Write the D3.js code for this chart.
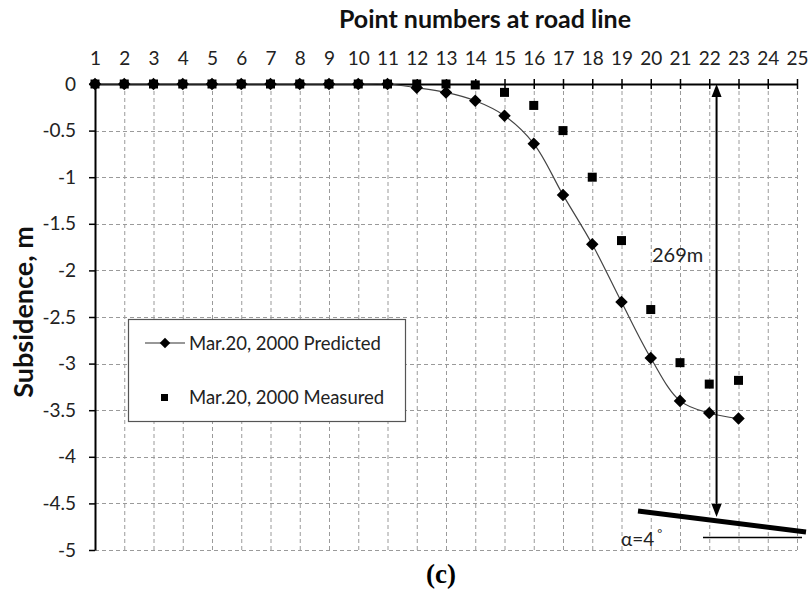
<!DOCTYPE html>
<html>
<head>
<meta charset="utf-8">
<script src="https://cdn.jsdelivr.net/npm/d3@7"></script>
<style>
  html, body { margin: 0; padding: 0; background: #fff; }
  svg { display: block; }
</style>
</head>
<body>
<svg id="chart" width="809" height="592"></svg>
<script>
// ---- data ----
const pointNumbers = [1,2,3,4,5,6,7,8,9,10,11,12,13,14,15,16,17,18,19,20,21,22,23];
const predicted = [0,0,0,0,0,0,0,0,0,0,0,-0.04,-0.09,-0.18,-0.34,-0.64,-1.19,-1.72,-2.34,-2.94,-3.40,-3.53,-3.59];
const measuredPoints = [1,2,3,4,5,6,7,8,9,10,11,12,13,14,15,16,17,18,19,20,21,22,23];
const measured = [0,0,0,0,0,0,0,0,0,0,0,0,0,-0.01,-0.09,-0.23,-0.50,-1.00,-1.68,-2.42,-2.99,-3.22,-3.18];
const xTicks = d3.range(1, 26);
const yTicks = [0,-0.5,-1,-1.5,-2,-2.5,-3,-3.5,-4,-4.5,-5];
const seriesNames = ["Mar.20, 2000 Predicted", "Mar.20, 2000 Measured"];
const arrowX = 22.25;        // position of the 269m arrow (point-number units)
const arrowLabel = "269m";
const angleLabel = "α=4";

const SANS = "Lato, 'Open Sans', sans-serif";

// ---- layout ----
const svg = d3.select("#chart");
const x = d3.scaleLinear().domain([1, 25]).range([95, 797]);
const y = d3.scaleLinear().domain([0, -5]).range([84, 550]);

// grid
const grid = svg.append("g").attr("stroke", "#9a9a9a").attr("stroke-width", 1).attr("stroke-dasharray", "4,3");
grid.selectAll("line.v").data(xTicks.filter(d => d > 1)).join("line")
  .attr("x1", d => x(d) + 0.5).attr("x2", d => x(d) + 0.5)
  .attr("y1", y(0)).attr("y2", y(-5));
grid.selectAll("line.h").data(yTicks.filter(d => d < 0)).join("line")
  .attr("y1", d => Math.round(y(d)) + 0.5).attr("y2", d => Math.round(y(d)) + 0.5)
  .attr("x1", x(1)).attr("x2", x(25));

// top axis
const xAxis = d3.axisTop(x).tickValues(xTicks).tickFormat(d3.format("d")).tickSizeInner(5).tickSizeOuter(0).tickPadding(14);
const gx = svg.append("g").attr("transform", `translate(0,${y(0)})`).call(xAxis);
gx.select(".domain").attr("stroke", "#000").attr("stroke-width", 2);
gx.selectAll(".tick line").attr("stroke", "#000").attr("stroke-width", 1.5).attr("y2", 5).attr("y1", -5);
gx.selectAll(".tick text").style("font-size", "19px").style("font-family", SANS).attr("fill", "#222");

// left axis
const yAxis = d3.axisLeft(y).tickValues(yTicks).tickSizeInner(6).tickSizeOuter(0).tickPadding(13);
const gy = svg.append("g").attr("transform", `translate(${x(1)},0)`).call(yAxis);
gy.select(".domain").attr("stroke", "#000").attr("stroke-width", 2);
gy.selectAll(".tick line").attr("stroke", "#000").attr("stroke-width", 1.5);
gy.selectAll(".tick text").style("font-size", "19px").style("font-family", SANS).attr("fill", "#222")
  .text(d => String(d));

// titles
svg.append("text").attr("x", 485).attr("y", 28).attr("text-anchor", "middle")
  .style("font-size", "25px").style("font-weight", "bold").style("font-family", SANS).attr("fill", "#111")
  .text("Point numbers at road line");
svg.append("text").attr("transform", "translate(33,312) rotate(-90)").attr("text-anchor", "middle")
  .style("font-size", "27px").style("font-weight", "bold").style("font-family", SANS).attr("fill", "#111")
  .text("Subsidence, m");

// predicted line
const predData = pointNumbers.map((p, i) => [p, predicted[i]]);
svg.append("path").datum(predData)
  .attr("fill", "none").attr("stroke", "#444").attr("stroke-width", 1.2)
  .attr("d", d3.line().x(d => x(d[0])).y(d => y(d[1])).curve(d3.curveCatmullRom.alpha(0.5)));

// measured squares
svg.append("g").selectAll("rect").data(measuredPoints.map((p, i) => [p, measured[i]])).join("rect")
  .attr("x", d => x(d[0]) - 4.5).attr("y", d => y(d[1]) - 4.5)
  .attr("width", 9).attr("height", 9).attr("fill", "#000");

// predicted diamonds
const diamond = d3.symbol().type(d3.symbolDiamond2).size(100);
svg.append("g").selectAll("path").data(predData).join("path")
  .attr("transform", d => `translate(${x(d[0])},${y(d[1])})`)
  .attr("d", diamond).attr("fill", "#000");

// legend
const lg = svg.append("g");
lg.append("rect").attr("x", 128.5).attr("y", 319.5).attr("width", 277).attr("height", 102)
  .attr("fill", "#fff").attr("stroke", "#555").attr("stroke-width", 1.2);
lg.append("line").attr("x1", 145).attr("x2", 185).attr("y1", 343).attr("y2", 343).attr("stroke", "#333").attr("stroke-width", 1.2);
lg.append("path").attr("transform", "translate(165,343)").attr("d", d3.symbol().type(d3.symbolDiamond2).size(70)).attr("fill", "#000");
lg.append("rect").attr("x", 161).attr("y", 394).attr("width", 7).attr("height", 7).attr("fill", "#000");
lg.append("text").attr("x", 189).attr("y", 350).style("font-size", "18.5px").style("font-family", SANS).attr("fill", "#222").text(seriesNames[0]);
lg.append("text").attr("x", 189).attr("y", 404).style("font-size", "18.5px").style("font-family", SANS).attr("fill", "#222").text(seriesNames[1]);

// annotation: arrow 269m
const ax = x(arrowX);
svg.append("line").attr("x1", ax).attr("x2", ax).attr("y1", y(0) + 12).attr("y2", 505)
  .attr("stroke", "#000").attr("stroke-width", 2);
svg.append("path").attr("d", `M${ax},${y(0)} L${ax - 5},${y(0) + 13} L${ax + 5},${y(0) + 13} Z`).attr("fill", "#000");
svg.append("path").attr("d", `M${ax},517 L${ax - 5},504 L${ax + 5},504 Z`).attr("fill", "#000");
svg.append("text").attr("x", 652).attr("y", 262).style("font-size", "20px").style("font-family", SANS).attr("fill", "#222").text(arrowLabel);

// slope line and angle
svg.append("line").attr("x1", 638).attr("y1", 511).attr("x2", 806).attr("y2", 532)
  .attr("stroke", "#000").attr("stroke-width", 5);
svg.append("line").attr("x1", 703).attr("y1", 537.5).attr("x2", 802).attr("y2", 537.5)
  .attr("stroke", "#000").attr("stroke-width", 1.3);
const at = svg.append("text").attr("x", 621).attr("y", 546).style("font-size", "19px").style("font-family", SANS).attr("fill", "#222");
at.append("tspan").text(angleLabel);
at.append("tspan").attr("dx", 3).attr("dy", -8).style("font-size", "12px").text("°");

// caption
svg.append("text").attr("x", 441).attr("y", 583).attr("text-anchor", "middle")
  .style("font-family", "'Liberation Serif', 'Times New Roman', serif").style("font-weight", "bold").style("font-size", "27px")
  .attr("fill", "#000").text("(c)");
</script>
</body>
</html>
